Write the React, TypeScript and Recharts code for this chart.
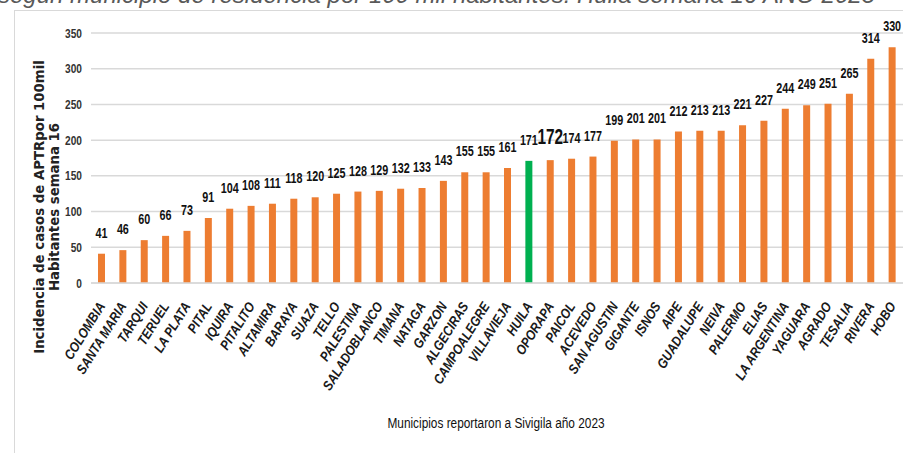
import React from "react";
import { BarChart, Bar, XAxis, YAxis, CartesianGrid, Cell, LabelList } from "recharts";

const municipios = [
  "COLOMBIA", "SANTA MARIA", "TARQUI", "TERUEL", "LA PLATA", "PITAL", "IQUIRA", "PITALITO",
  "ALTAMIRA", "BARAYA", "SUAZA", "TELLO", "PALESTINA", "SALADOBLANCO", "TIMANA", "NATAGA",
  "GARZON", "ALGECIRAS", "CAMPOALEGRE", "VILLAVIEJA", "HUILA", "OPORAPA", "PAICOL", "ACEVEDO",
  "SAN AGUSTIN", "GIGANTE", "ISNOS", "AIPE", "GUADALUPE", "NEIVA", "PALERMO", "ELIAS",
  "LA ARGENTINA", "YAGUARA", "AGRADO", "TESALIA", "RIVERA", "HOBO",
];

const incidencia = [
  41, 46, 60, 66, 73, 91, 104, 108,
  111, 118, 120, 125, 128, 129, 132, 133,
  143, 155, 155, 161, 171, 172, 174, 177,
  199, 201, 201, 212, 213, 213, 221, 227,
  244, 249, 251, 265, 314, 330,
];

const yTicks = [0, 50, 100, 150, 200, 250, 300, 350];

const destacado = "HUILA";
const etiquetaGrande = "OPORAPA";

const data = municipios.map((m, i) => ({ municipio: m, valor: incidencia[i] }));

const ORANGE = "#ED7D31";
const GREEN = "#00B050";
const GRID = "#d9d9d9";
const SANS = "'Liberation Sans', Arial, sans-serif";

// condensed text: regular sans squeezed horizontally
const Narrow = ({ x, y, sx, size, bold, anchor = "middle", fill = "#111", children }: any) => (
  <g transform={`translate(${x},${y}) scale(${sx},1)`}>
    <text
      x={0}
      y={0}
      textAnchor={anchor}
      fontFamily={SANS}
      fontWeight={bold ? "bold" : "normal"}
      fontSize={size}
      fill={fill}
    >
      {children}
    </text>
  </g>
);

const XTick = (props: any) => {
  const { x, y, payload } = props;
  return (
    <g transform={`translate(${x + 4},${y + 23})`}>
      <text
        transform="rotate(-58) scale(0.95,1.1)"
        textAnchor="end"
        fontFamily={SANS}
        fontWeight="bold"
        fontStyle="italic"
        fontSize={12.5}
        fill="#1a1a1a"
      >
        {payload.value}
      </text>
    </g>
  );
};

const YTick = (props: any) => {
  const { y, payload } = props;
  return (
    <Narrow x={82} y={y + 4.5} sx={0.78} size={13} bold anchor="end" fill="#333">
      {payload.value}
    </Narrow>
  );
};

const ValueLabel = (props: any) => {
  const { x, y, width, value, index } = props;
  const big = municipios[index] === etiquetaGrande;
  return (
    <Narrow
      x={x + width / 2}
      y={y - 16}
      sx={big ? 0.7 : 0.77}
      size={big ? 22 : 14}
      bold
      fill="#111"
    >
      {value}
    </Narrow>
  );
};

const YTitle = () => (
  <g fontFamily="'DejaVu Sans', Verdana, sans-serif" fontWeight="bold" fontSize={13.3} fill="#222">
    <text transform="translate(44,207) rotate(-90)" textAnchor="middle">
      Incidencia de casos de APTRpor 100mil
    </text>
    <text transform="translate(59,207) rotate(-90)" textAnchor="middle">
      Habitantes semana 16
    </text>
  </g>
);

const XTitle = () => (
  <Narrow x={496} y={428} sx={0.79} size={15} fill="#111">
    Municipios reportaron a Sivigila  año 2023
  </Narrow>
);

export default function App() {
  return (
    <div
      style={{
        position: "absolute",
        left: 0,
        top: 0,
        width: 903,
        height: 453,
        overflow: "hidden",
        background: "#fff",
      }}
    >
      <div
        style={{
          position: "absolute",
          left: -2,
          top: -19,
          whiteSpace: "nowrap",
          fontFamily: SANS,
          fontStyle: "italic",
          fontSize: 24,
          color: "#595959",
        }}
      >
        según municipio de residencia por 100 mil habitantes. Huila semana 16 AÑO 2023
      </div>
      <div
        style={{
          position: "absolute",
          left: 14,
          top: 10,
          width: 1000,
          height: 600,
          border: `1.5px solid ${GRID}`,
        }}
      />
      <div style={{ position: "absolute", left: 0, top: 0 }}>
        <BarChart
          width={903}
          height={453}
          data={data}
          margin={{ top: 33, right: 0, bottom: 30, left: 0 }}
          barSize={7}
        >
          <CartesianGrid vertical={false} stroke={GRID} strokeWidth={1.5} />
          <XAxis
            dataKey="municipio"
            interval={0}
            height={140}
            tickLine={false}
            tickSize={0}
            tickMargin={0}
            axisLine={{ stroke: GRID, strokeWidth: 1.5 }}
            tick={<XTick />}
            label={{ content: () => <XTitle /> }}
          />
          <YAxis
            width={91}
            domain={[0, 350]}
            ticks={yTicks}
            axisLine={false}
            tickLine={false}
            tick={<YTick />}
            label={{ content: () => <YTitle /> }}
          />
          <Bar dataKey="valor" isAnimationActive={false}>
            {data.map((d) => (
              <Cell key={d.municipio} fill={d.municipio === destacado ? GREEN : ORANGE} />
            ))}
            <LabelList dataKey="valor" content={<ValueLabel />} />
          </Bar>
        </BarChart>
      </div>
    </div>
  );
}
